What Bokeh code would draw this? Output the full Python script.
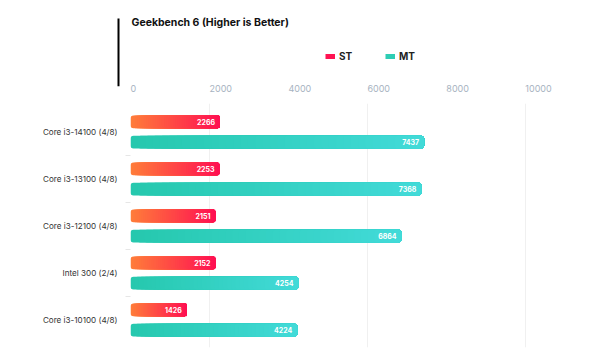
from bokeh.plotting import figure
from bokeh.layouts import column
from bokeh.models import (ColumnDataSource, FixedTicker, Range1d, Legend, LegendItem,
                          BoxAnnotation, Label, LinearAxis)
from bokeh.embed import file_html
from bokeh.resources import INLINE
from bokeh.core.properties import value

# ---- data ----
title_text = "Geekbench 6 (Higher is Better)"
categories = ["Core i3-14100 (4/8)", "Core i3-13100 (4/8)", "Core i3-12100 (4/8)",
              "Intel 300 (2/4)", "Core i3-10100 (4/8)"]
st_scores = [2266, 2253, 2151, 2152, 1426]
mt_scores = [7437, 7368, 6864, 4254, 4224]
x_ticks = [0, 2000, 4000, 6000, 8000, 10000]
series_names = ["ST", "MT"]

FONT = "Inter"
ST_START, ST_END = (255, 124, 58), (255, 16, 82)
MT_START, MT_END = (38, 200, 174), (66, 218, 216)
N_SLICES = 40
W, H = 600, 355
HEADER_H = 103          # header height; main frame starts right below it
HDR_FRAME_H = 86        # header frame height, axis labels sit below it
LEFT, RIGHT = 130, 10   # main frame borders
X_MAX = 11650
NAN = float("nan")

# main-frame scale (px per unit) so the header axis lines up with the bars
scale = (W - LEFT - RIGHT) / X_MAX

# ---------------- header (title, legend, accent line, value axis) ----------------
hdr = figure(width=W, height=HEADER_H, output_backend="svg", toolbar_location=None,
             x_range=Range1d(-LEFT / scale, (W - LEFT) / scale),
             y_range=Range1d(HDR_FRAME_H, 0),
             x_axis_location=None, y_axis_location=None,
             min_border_left=0, min_border_right=0, min_border_top=0,
             min_border_bottom=HEADER_H - HDR_FRAME_H,
             outline_line_color=None, frame_align=False)
hdr.xgrid.visible = False
hdr.ygrid.visible = False

hdr.add_layout(Label(x=131, y=22, x_units="screen", text=title_text, text_font=FONT,
                     text_font_style="bold", text_font_size="10.5px",
                     text_color="#111111", text_baseline="middle"))
hdr.add_layout(BoxAnnotation(left=117, right=119, left_units="screen",
                             right_units="screen", top=18, bottom=HDR_FRAME_H,
                             fill_color="black", fill_alpha=1, line_color=None))

# legend-only renderers (a single NaN point, so nothing is drawn in the plot)
st_leg = hdr.line(x=[NAN], y=[NAN], line_color="#ff1352", line_width=5)
mt_leg = hdr.line(x=[NAN], y=[NAN], line_color="#2ecdb4", line_width=5)
legend = Legend(items=[LegendItem(label=series_names[0], renderers=[st_leg]),
                       LegendItem(label=series_names[1], renderers=[mt_leg])],
                orientation="horizontal", location=(325, HDR_FRAME_H - 61.5),
                glyph_width=10, glyph_height=8, spacing=26, label_standoff=4,
                label_text_font=FONT, label_text_font_size="10px",
                label_text_font_style="bold", label_text_color="#222222",
                border_line_color=None, background_fill_alpha=0,
                padding=0, margin=0)
hdr.add_layout(legend)

xa = LinearAxis(ticker=FixedTicker(ticks=x_ticks))
xa.axis_line_color = None
xa.major_tick_line_color = None
xa.minor_tick_line_color = None
xa.major_tick_out = 0
xa.major_tick_in = 0
xa.minor_tick_out = 0
xa.minor_tick_in = 0
xa.major_label_text_color = "#a7b3c1"
xa.major_label_text_font = FONT
xa.major_label_text_font_size = "9px"
xa.major_label_orientation = -0.0001   # keeps labels left-aligned at their ticks
xa.major_label_standoff = 2
hdr.add_layout(xa, "below")

# ---------------- main chart ----------------
p = figure(width=W, height=H - HEADER_H, output_backend="svg", toolbar_location=None,
           x_axis_location=None, frame_align=False,
           x_range=Range1d(0, X_MAX), y_range=Range1d(5.085, -0.106),
           min_border_left=LEFT, min_border_right=RIGHT, min_border_top=0,
           min_border_bottom=8, outline_line_color=None)


def hexc(c):
    return "#%02x%02x%02x" % tuple(int(round(v)) for v in c)


def gradient_source(values, offset, c0, c1):
    left, right, y, color = [], [], [], []
    for k, v in enumerate(values):
        for i in range(N_SLICES):
            t = i / (N_SLICES - 1)
            left.append(v * i / N_SLICES)
            right.append(v)
            y.append(k + 0.5 + offset)
            color.append(hexc([a + (b - a) * t for a, b in zip(c0, c1)]))
    return ColumnDataSource(dict(left=left, right=right, y=y, color=color))


BAR_H = 0.275
for vals, off, c0, c1 in [(st_scores, -0.215, ST_START, ST_END),
                          (mt_scores, 0.215, MT_START, MT_END)]:
    src = gradient_source(vals, off, c0, c1)
    p.hbar(y="y", left="left", right="right", height=BAR_H, source=src,
           fill_color="color", line_color=None, border_radius=3)
    lbl = ColumnDataSource(dict(x=vals, y=[k + 0.5 + off for k in range(len(vals))],
                                t=[str(v) for v in vals]))
    p.text(x="x", y="y", text="t", source=lbl, x_offset=-5, text_align="right",
           text_baseline="middle", text_color="white", text_font=value(FONT),
           text_font_style="bold", text_font_size="7px")

# y axis
ya = p.yaxis[0]
ya.ticker = FixedTicker(ticks=[k + 0.5 for k in range(len(categories))],
                        minor_ticks=list(range(1, len(categories))))
ya.major_label_overrides = {k + 0.5: c for k, c in enumerate(categories)}
ya.axis_line_color = None
ya.major_tick_line_color = None
ya.minor_tick_line_color = "#e6e6e6"
ya.minor_tick_out = 5
ya.minor_tick_in = 0
ya.major_label_standoff = 7
ya.major_label_text_font = FONT
ya.major_label_text_font_size = "8.1px"
ya.major_label_text_color = "#333333"

p.xgrid.ticker = FixedTicker(ticks=[2000, 6000, 10000])
p.xgrid.grid_line_color = "#f0f0f0"
p.ygrid.grid_line_color = None

layout = column(hdr, p, spacing=0)
open("out.html", "w").write(file_html(layout, INLINE))
